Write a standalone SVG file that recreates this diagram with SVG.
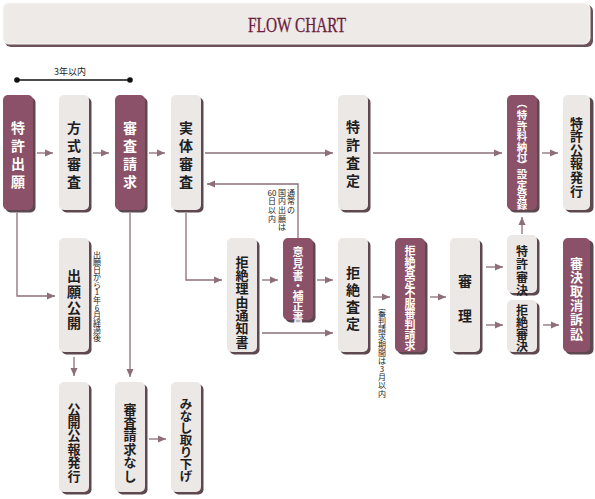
<svg xmlns="http://www.w3.org/2000/svg" width="595" height="499" viewBox="0 0 595 499">
<style>
.sh{fill:#5e4850}
.lt{fill:#ece8e6}
.dk{fill:#8a5168}
.t{font-family:"Noto Sans CJK JP","Noto Sans",sans-serif;font-weight:bold;text-anchor:middle;dominant-baseline:central}
.v{font-family:"Noto Sans CJK JP","Noto Sans",sans-serif;font-weight:bold;text-anchor:middle;writing-mode:vertical-rl}
.tl{fill:#1e1e1e}
.tw{fill:#ffffff}
.s{font-family:"Noto Sans CJK JP","Noto Sans",sans-serif;font-size:8px;fill:#222;text-anchor:middle;dominant-baseline:central}
.c{fill:none;stroke:#8c6f79;stroke-width:1.3}
</style>
<defs>
<marker id="ah" markerUnits="userSpaceOnUse" markerWidth="9" markerHeight="8" refX="8" refY="4" orient="auto">
<path d="M0,0.5 L8,4 L0,7.5 z" fill="#8c6f79"/>
</marker>
</defs>
<rect width="595" height="499" fill="#ffffff"/>
<g id="title">
<rect x="5" y="5" width="588" height="42" rx="6" fill="#6a5258"/>
<rect x="3" y="3" width="587" height="41" rx="6" fill="#eeeae8" stroke="#f8f6f5" stroke-width="1"/>
<text x="297" y="32" font-family="Liberation Serif,serif" font-size="21" fill="#6b1d3c" stroke="#6b1d3c" stroke-width="0.3" text-anchor="middle" textLength="98" lengthAdjust="spacingAndGlyphs">FLOW CHART</text>
</g>
<g id="period">
<line x1="17" y1="80" x2="130" y2="80" stroke="#111" stroke-width="1.3"/>
<circle cx="17" cy="80" r="2.8" fill="#111"/>
<circle cx="130" cy="80" r="2.8" fill="#111"/>
<text x="70" y="75" font-family="Noto Sans CJK JP,sans-serif" font-size="9" fill="#222" text-anchor="middle">3年以内</text>
</g>
<g id="connectors">
<path class="c" d="M37,153 H53" marker-end="url(#ah)"/>
<path class="c" d="M93,153 H109" marker-end="url(#ah)"/>
<path class="c" d="M149,153 H165" marker-end="url(#ah)"/>
<path class="c" d="M205,153 H333" marker-end="url(#ah)"/>
<path class="c" d="M373,153 H502" marker-end="url(#ah)"/>
<path class="c" d="M542,153 H558" marker-end="url(#ah)"/>
<path class="c" d="M298,238 V184 H207" marker-end="url(#ah)"/>
<path class="c" d="M17,213 V296 H55" marker-end="url(#ah)"/>
<path class="c" d="M130,213 V377" marker-end="url(#ah)"/>
<path class="c" d="M74,357 V376" marker-end="url(#ah)"/>
<path class="c" d="M149,439 H166" marker-end="url(#ah)"/>
<path class="c" d="M186,213 V280 H222" marker-end="url(#ah)"/>
<path class="c" d="M262,280 H278" marker-end="url(#ah)"/>
<path class="c" d="M317,280 H333" marker-end="url(#ah)"/>
<path class="c" d="M262,333 H333" marker-end="url(#ah)"/>
<path class="c" d="M373,297 H390" marker-end="url(#ah)"/>
<path class="c" d="M430,297 H446" marker-end="url(#ah)"/>
<path class="c" d="M486,267 H503" marker-end="url(#ah)"/>
<path class="c" d="M486,325 H503" marker-end="url(#ah)"/>
<path class="c" d="M543,325 H559" marker-end="url(#ah)"/>
<path class="c" d="M522,234 V217" marker-end="url(#ah)"/>
</g>
<g id="n-tokkyo-shutsugan"><rect class="sh" x="5.5" y="97.5" width="30" height="115" rx="5"/><rect class="dk" x="3" y="95" width="30" height="115" rx="5"/><text class="t tw" font-size="14" x="18 18 18 18" y="127 145 163 181">特許出願</text></g>
<g id="n-hoshiki"><rect class="sh" x="61.5" y="97.5" width="30" height="115" rx="5"/><rect class="lt" x="59" y="95" width="30" height="115" rx="5"/><text class="t tl" font-size="14" x="74 74 74 74" y="127 145 163 181">方式審査</text></g>
<g id="n-shinsa-seikyu"><rect class="sh" x="117.5" y="97.5" width="30" height="115" rx="5"/><rect class="dk" x="115" y="95" width="30" height="115" rx="5"/><text class="t tw" font-size="14" x="130 130 130 130" y="127 145 163 181">審査請求</text></g>
<g id="n-jittai"><rect class="sh" x="173.5" y="97.5" width="30" height="115" rx="5"/><rect class="lt" x="171" y="95" width="30" height="115" rx="5"/><text class="t tl" font-size="14" x="186 186 186 186" y="127 145 163 181">実体審査</text></g>
<g id="n-tokkyo-satei"><rect class="sh" x="340.5" y="97.5" width="30" height="115" rx="5"/><rect class="lt" x="338" y="95" width="30" height="115" rx="5"/><text class="t tl" font-size="14" x="353 353 353 353" y="126 144 162 180">特許査定</text></g>
<g id="n-settei"><rect class="sh" x="509.5" y="97.5" width="30" height="115" rx="5"/><rect class="dk" x="507" y="95" width="30" height="115" rx="5"/><text class="v tw" font-size="10.5" x="522" y="103 115 126 136.5 147 157.5 165 174.5 185 195 205">（特許料納付）設定登録</text></g>
<g id="n-koho"><rect class="sh" x="565.5" y="97.5" width="28" height="115" rx="5"/><rect class="lt" x="563" y="95" width="27" height="115" rx="5"/><text class="t tl" font-size="13" x="576.5 576.5 576.5 576.5 576.5 576.5" y="122 135.6 149.2 162.8 176.4 190">特許公報発行</text></g>
<g id="n-kokai"><rect class="sh" x="61.5" y="240.5" width="30" height="114" rx="5"/><rect class="lt" x="59" y="238" width="30" height="114" rx="5"/><text class="t tl" font-size="14" x="74 74 74 74" y="275 291 307 322">出願公開</text></g>
<g id="n-kyozetsu-riyu"><rect class="sh" x="229.5" y="240.5" width="30" height="114" rx="5"/><rect class="lt" x="227" y="238" width="30" height="114" rx="5"/><text class="t tl" font-size="13" x="242 242 242 242 242 242 242" y="261 274.3 287.6 301 314.2 327.5 341">拒絶理由通知書</text></g>
<g id="n-ikensho"><rect class="sh" x="285.5" y="240.5" width="30" height="82" rx="5"/><rect class="dk" x="283" y="238" width="30" height="82" rx="5"/><text class="t tw" font-size="11" x="298 298 298 298 298 298 298" y="251 263 275 285 295 306 317">意見書・補正書</text></g>
<g id="n-kyozetsu-satei"><rect class="sh" x="340.5" y="240.5" width="30" height="114" rx="5"/><rect class="lt" x="338" y="238" width="30" height="114" rx="5"/><text class="t tl" font-size="14" x="353 353 353 353" y="272 289 306 323">拒絶査定</text></g>
<g id="n-fufuku"><rect class="sh" x="397.5" y="240.5" width="30" height="114" rx="5"/><rect class="dk" x="395" y="238" width="30" height="114" rx="5"/><text class="t tw" font-size="11" x="410 410 410 410 410 410 410 410 410 410" y="250 260.6 271.1 281.7 292.2 302.8 313.3 323.9 334.4 345">拒絶査定不服審判請求</text></g>
<g id="n-shinri"><rect class="sh" x="452.5" y="240.5" width="30" height="114" rx="5"/><rect class="lt" x="450" y="238" width="30" height="114" rx="5"/><text class="t tl" font-size="14" x="465 465" y="280 315">審理</text></g>
<g id="n-tokkyo-shinketsu"><rect class="sh" x="509.5" y="237.5" width="30" height="58" rx="5"/><rect class="lt" x="507" y="235" width="30" height="58" rx="5"/><text class="t tl" font-size="12" x="522 522 522 522" y="250 263 276 289">特許審決</text></g>
<g id="n-kyozetsu-shinketsu"><rect class="sh" x="509.5" y="302.5" width="30" height="52" rx="5"/><rect class="lt" x="507" y="300" width="30" height="52" rx="5"/><text class="t tl" font-size="12" x="522 522 522 522" y="309 321 333 345">拒絶審決</text></g>
<g id="n-torikeshi"><rect class="sh" x="565.5" y="240.5" width="28" height="114" rx="5"/><rect class="dk" x="563" y="238" width="27" height="114" rx="5"/><text class="t tw" font-size="13" x="576.5 576.5 576.5 576.5 576.5 576.5" y="262 276.2 290.4 304.6 318.8 333">審決取消訴訟</text></g>
<g id="n-kokai-koho"><rect class="sh" x="61.5" y="384.5" width="30" height="110" rx="5"/><rect class="lt" x="59" y="382" width="30" height="110" rx="5"/><text class="t tl" font-size="13" x="74 74 74 74 74 74" y="408 421.4 434.8 448.2 461.6 475">公開公報発行</text></g>
<g id="n-seikyu-nashi"><rect class="sh" x="117.5" y="384.5" width="30" height="110" rx="5"/><rect class="lt" x="115" y="382" width="30" height="110" rx="5"/><text class="t tl" font-size="13" x="130 130 130 130 130 130" y="408 421.4 434.8 448.2 461.6 475">審査請求なし</text></g>
<g id="n-minashi"><rect class="sh" x="173.5" y="384.5" width="30" height="110" rx="5"/><rect class="lt" x="171" y="382" width="30" height="110" rx="5"/><text class="t tl" font-size="12.5" x="186 186 186 186 186 186 186" y="403 415 427 439 451 463 475">みなし取り下げ</text></g>
<g id="notes">
<text class="s" x="97 97 97 97 97 97 97 97 97 97 97 97" y="254 261.6 269.2 276.7 284.3 291.9 299.5 307.1 314.6 322.2 329.8 337.4">出願日から1年6月経過後</text>
<text class="s" font-size="8.5" x="291 291 291" y="192 200.7 209.4">通常の</text>
<text class="s" font-size="8.5" x="282 282 282 282 282" y="192 200.7 209.4 218.1 226.8">国内出願は</text>
<text class="s" font-size="8" x="269.8 274.2 272 272 272" y="192 192 200.7 209.4 218.1">60日以内</text>
<text class="s" x="382 382 382 382 382 382 382 382 382 382 382" y="312 320.1 328.2 336.3 344.4 352.5 360.6 368.7 376.8 384.9 393">審判請求期間は3月以内</text>
</g>
</svg>
